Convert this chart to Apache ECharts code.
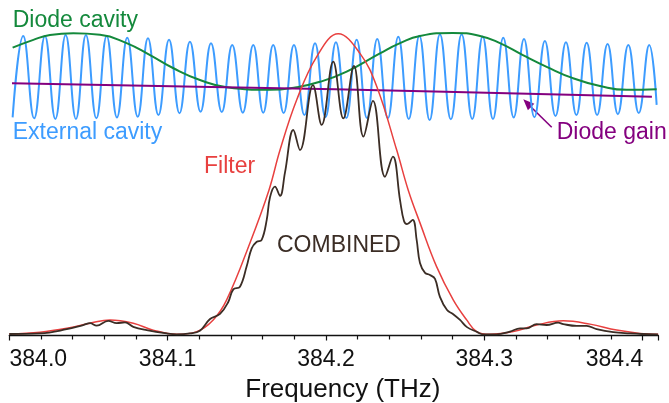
<!DOCTYPE html>
<html>
<head>
<meta charset="utf-8">
<script src="https://cdn.jsdelivr.net/npm/echarts@6/dist/echarts.min.js"></script>
<style>
html, body { margin: 0; padding: 0; background: #fff; }
#chart { width: 669px; height: 403px; }
</style>
</head>
<body>
<div id="chart"></div>
<script>
// 频率刻度 (THz)
var xTicks = [384.0, 384.1, 384.2, 384.3, 384.4];

// External cavity: 读出的峰/谷
var extFreq = [384.0021, 384.0088, 384.0157, 384.0225, 384.0291, 384.0356, 384.0421, 384.0484, 384.0550, 384.0615,
	384.0680, 384.0745, 384.0811, 384.0876, 384.0942, 384.1009, 384.1075, 384.1141, 384.1208, 384.1274,
	384.1342, 384.1408, 384.1475, 384.1541, 384.1604, 384.1667, 384.1733, 384.1798, 384.1864, 384.1931,
	384.1997, 384.2063, 384.2129, 384.2194, 384.2259, 384.2324, 384.2391, 384.2457, 384.2523, 384.2590,
	384.2655, 384.2720, 384.2789, 384.2857, 384.2924, 384.2990, 384.3055, 384.3120, 384.3186, 384.3251,
	384.3317, 384.3383, 384.3450, 384.3516, 384.3582, 384.3647, 384.3713, 384.3779, 384.3844, 384.3910,
	384.3976, 384.4042, 384.4089];
var extVal = [72.8, 100.0, 72.5, 100.0, 72.3, 100.3, 72.3, 100.3, 72.5, 100.0,
	72.8, 99.4, 73.0, 99.2, 73.6, 98.7, 74.2, 98.1, 74.7, 97.6,
	74.6, 97.0, 74.4, 97.0, 74.4, 97.0, 74.3, 97.0, 73.6, 97.6,
	72.9, 97.9, 72.6, 98.7, 72.6, 99.0, 72.5, 99.7, 72.3, 100.1,
	71.9, 100.6, 72.2, 100.6, 72.3, 99.8, 72.3, 99.4, 72.8, 99.0,
	72.9, 98.3, 73.3, 97.9, 73.6, 97.7, 73.6, 97.3, 73.9, 97.0,
	74.3, 97.0, 77.0];

// Diode cavity
var diodeFreq = [384.0021, 384.0152, 384.0257, 384.0404, 384.0573, 384.0741, 384.0889, 384.1034, 384.1204, 384.1373,
	384.1647, 384.1815, 384.1962, 384.2131, 384.2341, 384.2468, 384.2594, 384.2802, 384.2973, 384.3099,
	384.3244, 384.3394, 384.3560, 384.3731, 384.3899, 384.4089];
var diodeVal = [96.1, 98.7, 100.3, 100.9, 100.4, 97.6, 93.6, 89.3, 85.3, 82.9,
	82.0, 82.9, 84.7, 88.1, 94.2, 97.6, 100.0, 101.0, 100.0, 97.6,
	93.6, 89.7, 85.9, 83.3, 82.0, 82.2];

// Diode gain
var gainFreq = [384.0017, 384.1362, 384.2752, 384.4059];
var gainVal = [84.2, 82.9, 81.4, 79.7];

// Filter
var filterFreq = [384.0000, 384.0194, 384.0363, 384.0510, 384.0636, 384.0783, 384.0909, 384.1057, 384.1184, 384.1288,
	384.1373, 384.1520, 384.1640, 384.1710, 384.1815, 384.1942, 384.2078, 384.2215, 384.2321, 384.2447,
	384.2520, 384.2594, 384.2699, 384.2804, 384.2889, 384.2952, 384.3036, 384.3183, 384.3331, 384.3499,
	384.3668, 384.3836, 384.3983, 384.4099];
var filterVal = [0.5, 1.1, 2.4, 4.1, 5.2, 4.1, 1.8, 0.4, 1.3, 5.2,
	11.9, 30.9, 48.5, 61.9, 78.6, 93.1, 100.7, 94.2, 83.1, 61.9,
	48.5, 37.6, 23.0, 11.9, 5.2, 1.3, 0.4, 1.3, 3.5, 4.9,
	3.8, 1.8, 0.7, 0.4];

// COMBINED
var combFreq = [384.0000, 384.0194, 384.0363, 384.0467, 384.0510, 384.0552, 384.0625, 384.0678, 384.0731, 384.0783,
	384.0868, 384.0994, 384.1057, 384.1141, 384.1204, 384.1268, 384.1331, 384.1383, 384.1415, 384.1457,
	384.1499, 384.1531, 384.1563, 384.1594, 384.1626, 384.1647, 384.1678, 384.1710, 384.1741, 384.1794,
	384.1836, 384.1918, 384.1973, 384.2046, 384.2110, 384.2177, 384.2237, 384.2297, 384.2373, 384.2423,
	384.2468, 384.2493, 384.2512, 384.2548, 384.2573, 384.2594, 384.2626, 384.2657, 384.2689, 384.2720,
	384.2765, 384.2802, 384.2847, 384.2891, 384.2954, 384.2992, 384.3078, 384.3162, 384.3226, 384.3268,
	384.3331, 384.3394, 384.3467, 384.3499, 384.3584, 384.3647, 384.3710, 384.3815, 384.3920, 384.3994,
	384.4097];
var combVal = [0.5, 0.7, 2.1, 3.5, 4.1, 3.3, 4.9, 4.1, 4.4, 2.9,
	1.8, 0.7, 0.4, 0.7, 1.6, 5.5, 7.2, 11.2, 15.4, 16.3,
	23.0, 29.1, 31.3, 31.9, 38.6, 46.2, 49.7, 46.6, 54.3, 68.6,
	61.9, 83.6, 70.3, 91.4, 72.5, 90.0, 66.4, 78.3, 53.0, 59.7,
	45.2, 38.2, 37.2, 38.6, 31.9, 24.2, 20.9, 20.2, 18.9, 12.9,
	8.5, 7.2, 5.2, 2.8, 1.2, 0.4, 0.4, 1.3, 2.4, 2.4,
	3.8, 3.5, 4.3, 3.8, 3.2, 3.2, 2.1, 1.1, 0.7, 0.5,
	0.4];

function zip(xs, ys) {
	var out = [];
	for (var i = 0; i < xs.length; i++) out.push([xs[i], ys[i]]);
	return out;
}

var FONT = 'Liberation Sans, Arial, Helvetica, sans-serif';

function lineSeries(name, xs, ys, color, width, smooth) {
	return {
		name: name,
		type: 'line',
		data: zip(xs, ys),
		symbol: 'none',
		smooth: smooth,
		lineStyle: { color: color, width: width },
		silent: true
	};
}

var myChart = echarts.init(document.getElementById('chart'));

var option = {
	animation: false,
	grid: {
		left: 9.3,
		right: 10.6,
		top: 0,
		bottom: 67.5,
		containLabel: false,
		outerBoundsMode: 'none'
	},
	xAxis: {
		type: 'value',
		min: xTicks[0],
		max: 384.41,
		interval: 0.1,
		name: 'Frequency (THz)',
		nameLocation: 'middle',
		nameGap: 34,
		nameTextStyle: { fontSize: 26, fontFamily: FONT, color: '#111', padding: [0, 0, 0, 18] },
		axisLine: { lineStyle: { color: '#111', width: 1.3 } },
		axisTick: { length: 5, lineStyle: { color: '#111', width: 1.2 } },
		minorTick: { show: true, splitNumber: 5, length: 4, lineStyle: { color: '#111', width: 1.2 } },
		splitLine: { show: false },
		axisLabel: {
			fontSize: 23,
			fontFamily: FONT,
			color: '#111',
			margin: 13,
			formatter: function (v) {
				if (v > 384.405) return '';
				var s = v.toFixed(1);
				if (v < xTicks[0] + 0.05) return '{a|' + s + '}';
				if (v > xTicks[4] - 0.05) return '{b|' + s + '}';
				return s;
			},
			rich: {
				a: { fontSize: 23, fontFamily: FONT, color: '#111', padding: [0, 0, 0, 58] },
				b: { fontSize: 23, fontFamily: FONT, color: '#111', padding: [0, 56, 0, 0] }
			}
		}
	},
	yAxis: {
		type: 'value',
		min: 0,
		max: 112,
		show: false,
		splitLine: { show: false }
	},
	series: [
		lineSeries('External cavity', extFreq, extVal, '#3d9cff', 2, 0.45),
		lineSeries('Diode cavity', diodeFreq, diodeVal, '#14893c', 2, 0.5),
		lineSeries('Diode gain', gainFreq, gainVal, '#84007f', 2, 0.5),
		lineSeries('Filter', filterFreq, filterVal, '#e8403f', 1.5, 0.4),
		lineSeries('COMBINED', combFreq, combVal, '#3b2d25', 1.8, 0.4)
	],
	graphic: [
		{ type: 'text', x: 12.7, y: 20.5, style: { text: 'Diode cavity', font: '23px ' + FONT, fill: '#14893c', align: 'left', verticalAlign: 'middle' } },
		{ type: 'text', x: 12.7, y: 132.5, style: { text: 'External cavity', font: '23px ' + FONT, fill: '#3d9cff', align: 'left', verticalAlign: 'middle' } },
		{ type: 'text', x: 204, y: 167, style: { text: 'Filter', font: '23px ' + FONT, fill: '#e8403f', align: 'left', verticalAlign: 'middle' } },
		{ type: 'text', x: 277, y: 246, style: { text: 'COMBINED', font: '23px ' + FONT, fill: '#3b2d25', align: 'left', verticalAlign: 'middle' } },
		{ type: 'text', x: 556.7, y: 132.5, style: { text: 'Diode gain', font: '23px ' + FONT, fill: '#84007f', align: 'left', verticalAlign: 'middle' } },
		// 箭头
		{ type: 'line', shape: { x1: 551.7, y1: 127.3, x2: 531, y2: 107 }, style: { stroke: '#84007f', lineWidth: 1.6 } },
		{ type: 'polygon', shape: { points: [[523.3, 99.3], [534.3, 103.8], [527.9, 110.2]] }, style: { fill: '#84007f' } }
	]
};

myChart.setOption(option);
</script>
</body>
</html>
